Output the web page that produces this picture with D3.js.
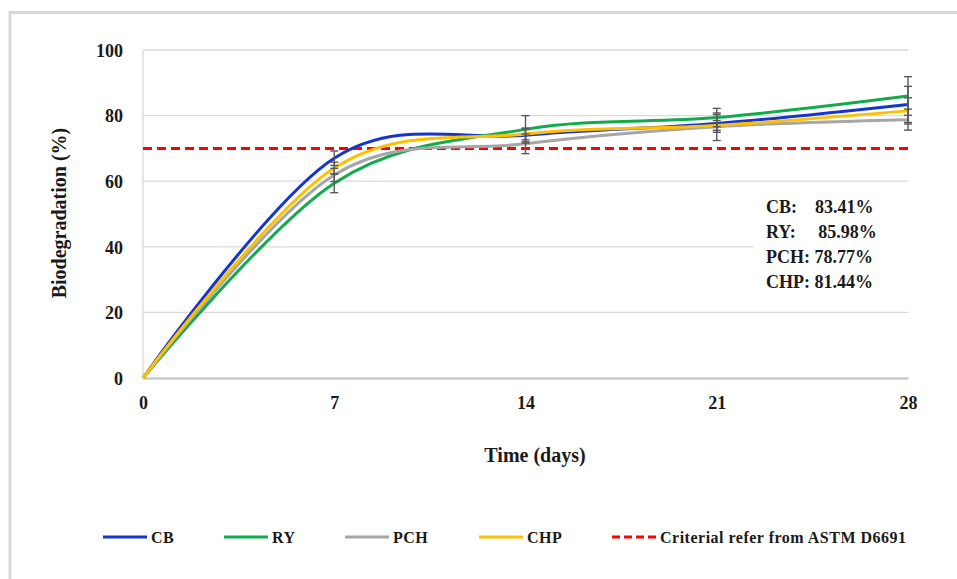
<!DOCTYPE html>
<html>
<head>
<meta charset="utf-8">
<script src="https://cdn.jsdelivr.net/npm/d3@7"></script>
<style>
  body { margin: 0; background: #fff; }
  svg text { font-family: "Liberation Serif", "Times New Roman", serif; font-weight: bold; fill: #1a1a1a; }
</style>
</head>
<body>
<div id="content"></div>
<script>
// ******* DATA *******
const days = [0, 7, 14, 21, 28];
const xTicks = [0, 7, 14, 21, 28];
const yTicks = [0, 20, 40, 60, 80, 100];

const seriesNames = ["CB", "RY", "PCH", "CHP"];
const seriesColors = ["#1535d0", "#12ab4c", "#a6a6a6", "#ffc000"];

// biodegradation (%)
const cbValues  = [0, 67.0, 74.0, 77.6, 83.41];
const ryValues  = [0, 59.4, 75.8, 79.4, 85.98];
const pchValues = [0, 61.9, 71.4, 76.6, 78.77];
const chpValues = [0, 64.0, 74.4, 77.0, 81.44];

// error bar half widths
const cbErr  = [0, 2.2, 2.0, 2.7, 5.5];
const ryErr  = [0, 2.9, 4.2, 2.8, 5.9];
const pchErr = [0, 2.0, 3.0, 4.2, 3.2];
const chpErr = [0, 1.8, 1.8, 1.5, 4.0];

const criterion = 70;
const finalLabels = ["CB:    83.41%", "RY:     85.98%", "PCH: 78.77%", "CHP: 81.44%"];

const allValues = [cbValues, ryValues, pchValues, chpValues];
const allErrors = [cbErr, ryErr, pchErr, chpErr];

// ******* SETUP *******
const width = 957, height = 579;
const plot = { left: 143, right: 908, top: 50, bottom: 378 };

const svg = d3.select("#content").append("svg")
    .attr("width", width)
    .attr("height", height);

// outer frame (only top and left edges are inside the picture)
svg.append("path")
    .attr("d", `M10,${height} L10,12.5 L${width},12.5`)
    .attr("fill", "none")
    .attr("stroke", "#d9d9d9")
    .attr("stroke-width", 3);

const x = d3.scaleLinear().domain([0, 28]).range([plot.left, plot.right]);
const y = d3.scaleLinear().domain([0, 100]).range([plot.bottom, plot.top]);

// grid lines
svg.append("g")
    .selectAll("line")
    .data(yTicks.filter(d => d > 0))
    .join("line")
    .attr("x1", plot.left).attr("x2", plot.right)
    .attr("y1", d => y(d)).attr("y2", d => y(d))
    .attr("stroke", "#d9d9d9")
    .attr("stroke-width", 1.3);

// left axis line
svg.append("line")
    .attr("x1", plot.left).attr("x2", plot.left)
    .attr("y1", y(100)).attr("y2", y(0))
    .attr("stroke", "#d9d9d9")
    .attr("stroke-width", 1.3);

// y axis
const yAxis = svg.append("g")
    .attr("transform", `translate(${plot.left},0)`)
    .call(d3.axisLeft(y).tickValues(yTicks).tickSize(0).tickPadding(20));
yAxis.select(".domain").remove();
yAxis.selectAll("text")
    .style("font-size", "18px")
    .attr("dy", "0.35em");

// x axis
const xAxis = svg.append("g")
    .attr("transform", `translate(0,${plot.bottom})`)
    .call(d3.axisBottom(x).tickValues(xTicks).tickSize(0).tickPadding(18));
xAxis.select(".domain")
    .attr("stroke", "#bfbfbf")
    .attr("stroke-width", 2);
xAxis.selectAll("text")
    .style("font-size", "18px");

// axis titles
svg.append("text")
    .attr("transform", `translate(66,${(plot.top + plot.bottom) / 2 - 1}) rotate(-90)`)
    .attr("text-anchor", "middle")
    .style("font-size", "20px")
    .text("Biodegradation (%)");

svg.append("text")
    .attr("x", 535)
    .attr("y", 462)
    .attr("text-anchor", "middle")
    .style("font-size", "20px")
    .text("Time (days)");

// annotation box behind the final values
svg.append("rect")
    .attr("x", 753).attr("y", 190)
    .attr("width", 157).attr("height", 106)
    .attr("fill", "#fff");

// criterion line
svg.append("line")
    .attr("x1", plot.left).attr("x2", plot.right)
    .attr("y1", y(criterion)).attr("y2", y(criterion))
    .attr("stroke", "#ff0000")
    .attr("stroke-width", 3)
    .attr("stroke-dasharray", "9,5");

// series lines
const line = d3.line()
    .x(d => x(d.day))
    .y(d => y(d.value))
    .curve(d3.curveCatmullRom.alpha(0));

seriesNames.forEach((name, i) => {
    const pts = days.map((day, j) => ({ day, value: allValues[i][j] }));
    svg.append("path")
        .datum(pts)
        .attr("fill", "none")
        .attr("stroke", seriesColors[i])
        .attr("stroke-width", 3)
        .attr("d", line);
});

// error bars
const errGroup = svg.append("g")
    .attr("stroke", "#595959")
    .attr("stroke-width", 1.4);
seriesNames.forEach((name, i) => {
    days.forEach((day, j) => {
        const e = allErrors[i][j];
        if (!e) return;
        const v = allValues[i][j];
        const cx = x(day);
        errGroup.append("line")
            .attr("x1", cx).attr("x2", cx)
            .attr("y1", y(v - e)).attr("y2", y(v + e));
        [v - e, v + e].forEach(c => {
            errGroup.append("line")
                .attr("x1", cx - 4).attr("x2", cx + 4)
                .attr("y1", y(c)).attr("y2", y(c));
        });
    });
});

// final values text
svg.append("g")
    .selectAll("text")
    .data(finalLabels)
    .join("text")
    .attr("x", 766)
    .attr("y", (d, i) => 213 + i * 25)
    .style("font-size", "18px")
    .attr("xml:space", "preserve")
    .style("white-space", "pre")
    .text(d => d);

// ******* LEGEND *******
const legendY = 537;
const legendItems = [
    { label: "CB", color: seriesColors[0], x: 103 },
    { label: "RY", color: seriesColors[1], x: 224 },
    { label: "PCH", color: seriesColors[2], x: 345 },
    { label: "CHP", color: seriesColors[3], x: 479 },
    { label: "Criterial refer from ASTM D6691", color: "#ff0000", x: 612, dashed: true }
];
const legend = svg.append("g");
legendItems.forEach(item => {
    legend.append("line")
        .attr("x1", item.x).attr("x2", item.x + 44)
        .attr("y1", legendY).attr("y2", legendY)
        .attr("stroke", item.color)
        .attr("stroke-width", 3)
        .attr("stroke-dasharray", item.dashed ? "8,4" : null);
    legend.append("text")
        .attr("x", item.x + 48)
        .attr("y", legendY)
        .attr("dy", "0.35em")
        .style("font-size", "16px")
        .style("letter-spacing", "0.5px")
        .text(item.label);
});
</script>
</body>
</html>
